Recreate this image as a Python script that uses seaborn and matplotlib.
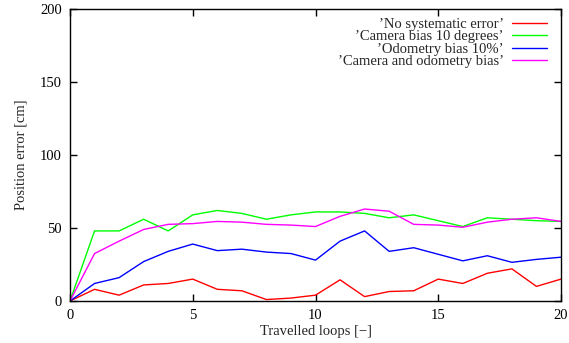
import numpy as np
import pandas as pd
import matplotlib
matplotlib.use("Agg")
import matplotlib.pyplot as plt
import seaborn as sns

loops = list(range(21))
no_error = [0, 8, 4, 11, 12, 15, 8, 7, 1, 2, 4, 14.5, 3, 6.5, 7, 15, 12, 19, 22, 10, 15]
camera_bias = [0, 48, 48, 56, 48, 59, 62, 60, 56, 59, 61, 61, 60, 57, 59, 55, 51, 57, 56, 55, 54.5]
odometry_bias = [0, 12, 16, 27, 34, 39, 34.5, 35.5, 33.5, 32.5, 28, 41, 48, 34, 36.5, 32, 27.5, 31, 26.5, 28.5, 30]
both_bias = [0, 32.5, 41, 49, 52.5, 53, 54.5, 54, 52.5, 52, 51, 58, 63, 61.5, 52.5, 52, 50.5, 54, 56, 57, 54.5]

labels = ["\u2019No systematic error\u2019", "\u2019Camera bias 10 degrees\u2019",
          "\u2019Odometry bias 10%\u2019", "\u2019Camera and odometry bias\u2019"]
colors = ["#ff0000", "#00ff00", "#0000ff", "#ff00ff"]

df = pd.DataFrame({
    "loops": loops * 4,
    "error": no_error + camera_bias + odometry_bias + both_bias,
    "series": sum([[l] * len(loops) for l in labels], []),
})

sns.set_style("ticks")
plt.rcParams["font.family"] = ["Liberation Serif", "DejaVu Serif"]

fig, ax = plt.subplots(figsize=(5.69, 3.43), dpi=100)
fig.subplots_adjust(left=70 / 569, right=561 / 569, top=1 - 9 / 343, bottom=1 - 301 / 343)

sns.lineplot(data=df, x="loops", y="error", hue="series", hue_order=labels,
             palette=colors, linewidth=1.0, ax=ax, legend=False)

# legend entries, gnuplot style (text then line sample)
for lab, c in zip(labels, colors):
    ax.plot([], [], color=c, linewidth=1.0, label=lab)

ax.set_xlim(0, 20)
ax.set_ylim(0, 200)
ax.set_xticks([0, 5, 10, 15, 20])
ax.set_yticks([0, 50, 100, 150, 200])
ax.tick_params(direction="in", length=5, width=1, top=True, right=True,
               labelsize=10.5, colors="black", pad=6)
for s in ax.spines.values():
    s.set_linewidth(1.0)
    s.set_color("black")
ax.set_xlabel("Travelled loops [\u2212]", fontsize=10.5, labelpad=2)
ax.set_ylabel("Position error [cm]", fontsize=10.5, labelpad=9)

ax.legend(loc="upper right", frameon=False, markerfirst=False, fontsize=10.5,
          handlelength=2.4, handletextpad=0.55, labelspacing=-0.05,
          borderaxespad=0.0, bbox_to_anchor=(0.983, 0.99))

fig.savefig("out.png", dpi=100)
